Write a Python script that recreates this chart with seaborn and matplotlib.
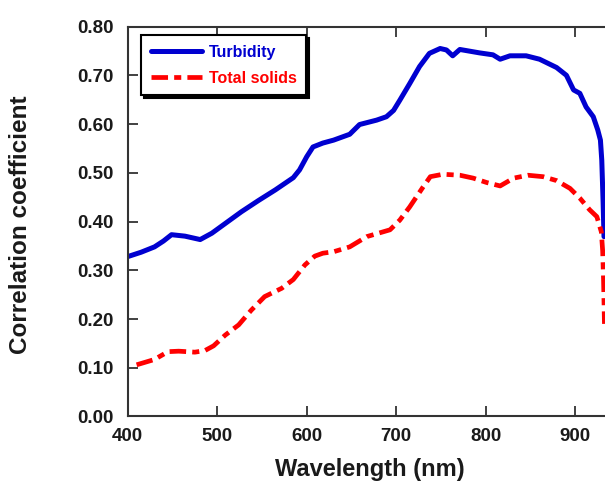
import numpy as np
import pandas as pd
import matplotlib
matplotlib.use("Agg")
import matplotlib.pyplot as plt
import seaborn as sns

# Turbidity correlation curve
turb_wl = [400, 415, 430, 440, 449, 464, 481, 494, 509, 527, 546, 565, 585, 592,
           600, 607, 618, 630, 648, 659, 678, 689, 697, 704, 715, 726, 737, 749,
           756, 763, 771, 793, 808, 816, 827, 845, 860, 879, 890, 898, 905, 912,
           920, 925, 928, 929.5, 931, 932]
turb_r = [0.328, 0.337, 0.348, 0.360, 0.373, 0.370, 0.363, 0.376, 0.396, 0.420, 0.443,
          0.465, 0.490, 0.506, 0.533, 0.553, 0.561, 0.567, 0.579, 0.599, 0.608, 0.615,
          0.628, 0.649, 0.683, 0.718, 0.745, 0.755, 0.752, 0.740, 0.753, 0.746, 0.742,
          0.733, 0.740, 0.740, 0.733, 0.716, 0.700, 0.670, 0.663, 0.635, 0.615, 0.588,
          0.567, 0.526, 0.440, 0.369]

# Total solids correlation curve
ts_wl = [410, 430, 445, 457, 475, 486, 496, 509, 524, 538, 553, 572, 585, 598, 609,
         618, 630, 648, 667, 693, 704, 715, 730, 738, 752, 771, 786, 801, 816, 831,
         847, 864, 879, 894, 905, 916, 924, 929, 930.5, 931.5, 932.5]
ts_r = [0.106, 0.117, 0.133, 0.134, 0.132, 0.135, 0.145, 0.167, 0.188, 0.218, 0.246,
        0.263, 0.281, 0.311, 0.329, 0.335, 0.338, 0.348, 0.369, 0.383, 0.403, 0.430,
        0.471, 0.492, 0.497, 0.495, 0.489, 0.480, 0.473, 0.489, 0.495, 0.492, 0.484,
        0.468, 0.448, 0.424, 0.410, 0.379, 0.340, 0.280, 0.190]

yticks = [0.0, 0.1, 0.2, 0.3, 0.4, 0.5, 0.6, 0.7, 0.8]
xticks = [400, 500, 600, 700, 800, 900]

sns.set_style("ticks")
plt.rcParams['font.family'] = ['Liberation Sans', 'DejaVu Sans']
plt.rcParams['font.weight'] = 'bold'

fig = plt.figure(figsize=(6.05, 4.82), dpi=100)
AX_W = 0.814
ax = fig.add_axes([0.211, 0.1359, AX_W, 0.809])

df1 = pd.DataFrame({"wl": turb_wl, "r": turb_r})
df2 = pd.DataFrame({"wl": ts_wl, "r": ts_r})
sns.lineplot(data=df1, x="wl", y="r", ax=ax, color="#0000d0", lw=3.6,
             label="Turbidity")
sns.lineplot(data=df2, x="wl", y="r", ax=ax, color="#ff0000", lw=3.4,
             label="Total solids")
ax.lines[1].set_dashes([3.5, 1.3, 1.5, 1.3])

ax.set_xlim(400, 950)
ax.set_ylim(0, 0.8)
ax.set_xticks(xticks)
ax.set_xticklabels([str(v) for v in xticks])
ax.set_yticks(yticks)
ax.set_yticklabels([f"{v:.2f}" for v in yticks])

for side in ["left", "bottom", "top", "right"]:
    ax.spines[side].set_visible(True)
    ax.spines[side].set_linewidth(1.5)
    ax.spines[side].set_color("#333333")

ax.tick_params(axis="both", direction="in", length=7, width=1.3, color="#333333",
               labelsize=13.5, labelcolor="#1a1a1a", top=True, right=True)
ax.tick_params(axis="x", pad=8)
ax.tick_params(axis="y", pad=10)
for lab in ax.get_xticklabels() + ax.get_yticklabels():
    lab.set_fontweight("bold")

ax.set_xlabel("Wavelength (nm)", fontsize=17, fontweight="bold", color="#1a1a1a")
ax.xaxis.label.set_va("baseline")
ax.xaxis.set_label_coords((370 - 127.7) / (AX_W * 605), (416.5 - 476) / 390)
ax.set_ylabel("Correlation coefficient", fontsize=17.5, fontweight="bold",
              color="#1a1a1a")
ax.yaxis.set_label_coords((32 - 127.7) / (AX_W * 605), 0.491)

leg = ax.legend(loc="upper left", bbox_to_anchor=(0.028, 0.978), frameon=True,
                fancybox=False,
                shadow={"color": "black", "alpha": 1.0},
                prop={"size": 11.5, "weight": "bold"}, labelcolor="linecolor",
                handlelength=3.2, handletextpad=0.4, labelspacing=0.7,
                borderpad=0.6, borderaxespad=0)
leg.get_frame().set_edgecolor("black")
leg.get_frame().set_linewidth(1.5)
leg.get_frame().set_alpha(1)

fig.savefig("out.png", dpi=100)
